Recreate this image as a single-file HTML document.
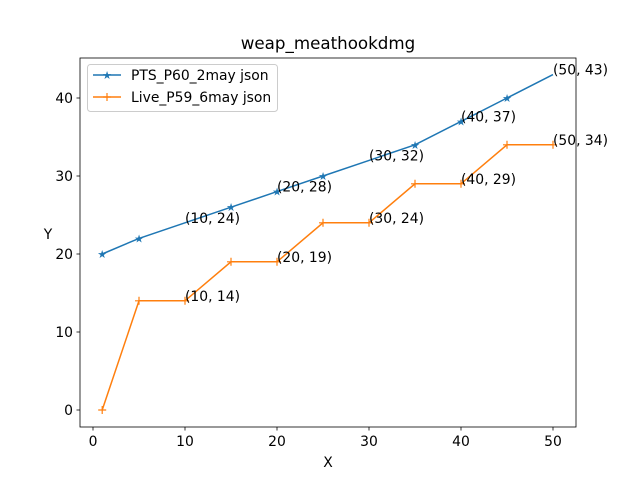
<!DOCTYPE html>
<html><head><meta charset="utf-8"><style>
body{margin:0;background:#fff}
svg{font-family:"DejaVu Sans","Liberation Sans",sans-serif}
</style></head><body>
<svg width="640" height="480" xmlns="http://www.w3.org/2000/svg" id="c">
<rect width="640" height="480" fill="#fff"/>
<text x="328" y="49" font-size="16.7" text-anchor="middle">weap_meathookdmg</text>
<text x="328" y="467" font-size="13.9" text-anchor="middle">X</text>
<text x="48" y="239" font-size="13.9" text-anchor="middle">Y</text>
<g id="ticks"></g>
<g id="series"></g>
<g id="ann"></g>
<rect x="80" y="58" width="496" height="369" fill="none" stroke="#000" stroke-width="0.8"/>
<g>
<rect x="87.5" y="64.5" width="190" height="47" rx="3" fill="#fff" fill-opacity="0.8" stroke="#ccc"/>
<line x1="93" y1="75" x2="121" y2="75" stroke="#1f77b4" stroke-width="1.5"/>
<text x="107" y="79" font-size="11" fill="#1f77b4" text-anchor="middle">★</text>
<text x="131" y="80" font-size="13.9">PTS_P60_2may json</text>
<line x1="93" y1="97" x2="121" y2="97" stroke="#ff7f0e" stroke-width="1.5"/>
<path d="M103,97h8M107,93v8" stroke="#ff7f0e" stroke-width="1.2"/>
<text x="131" y="102" font-size="13.9">Live_P59_6may json</text>
</g>
</svg>
<script>
const xs=[1,5,10,15,20,25,30,35,40,45,50];
const blueVals=[20,22,24,26,28,30,32,34,37,40,43];
const orangeVals=[0,14,14,19,19,24,24,29,29,34,34];
const xTicks=[0,10,20,30,40,50];
const yTicks=[0,10,20,30,40];
const blueMarked=[1,5,15,20,25,35,40,45];
const annX=[10,20,30,40,50];
const NS='http://www.w3.org/2000/svg';
const X=v=>93+v*9.2, Y=v=>410-v*7.8;
function mk(t,a,p){const e=document.createElementNS(NS,t);for(const k in a)e.setAttribute(k,a[k]);(p||document.getElementById('c')).appendChild(e);return e;}
const tg=document.getElementById('ticks');
xTicks.forEach(t=>{const l=mk('line',{x1:X(t),x2:X(t),y1:427,y2:430.5,stroke:'#000','stroke-width':0.8},tg);


const tx=mk('text',{x:X(t),y:446,'font-size':13.9,'text-anchor':'middle'},tg);tx.textContent=t;

});
yTicks.forEach(t=>{const l=mk('line',{x1:76.5,x2:80,y1:Y(t),y2:Y(t),stroke:'#000','stroke-width':0.8},tg);


const tx=mk('text',{x:73,y:Y(t)+5,'font-size':13.9,'text-anchor':'end'},tg);tx.textContent=t;

});
const sg=document.getElementById('series');
function line(vals,color,name){const p=mk('polyline',{points:xs.map((x,i)=>X(x)+','+Y(vals[i])).join(' '),fill:'none',stroke:color,'stroke-width':1.5},sg);

}
line(blueVals,'#1f77b4','pts-line');
line(orangeVals,'#ff7f0e','live-line');
xs.forEach((x,i)=>{if(blueMarked.includes(x)){const s=mk('text',{x:X(x),y:Y(blueVals[i])+4,'font-size':11,fill:'#1f77b4','text-anchor':'middle'},sg);s.textContent='★';

}
const px=X(x),py=Y(orangeVals[i]);const m=mk('path',{d:`M${px-4},${py}h8M${px},${py-4}v8`,stroke:'#ff7f0e','stroke-width':1.2},sg);

});
const ag=document.getElementById('ann');
[[blueVals,'pts'],[orangeVals,'live']].forEach(([vals,n])=>{xs.forEach((x,i)=>{if(!annX.includes(x))return;
const t=mk('text',{x:X(x),y:Y(vals[i]),'font-size':13.9},ag);t.textContent=`(${x}, ${vals[i]})`;

});});
</script>
</body></html>
